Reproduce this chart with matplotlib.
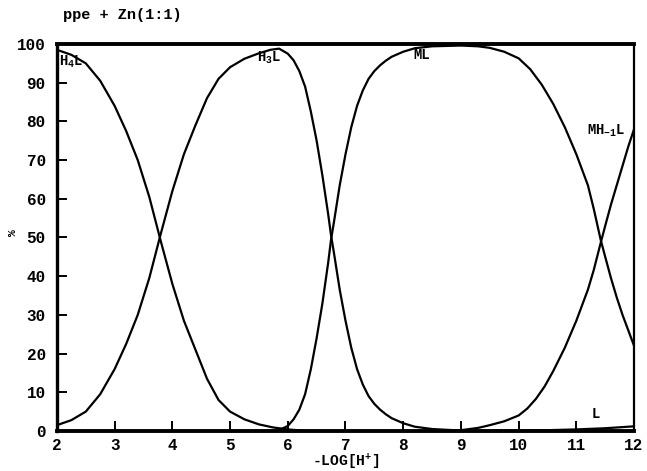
import matplotlib
matplotlib.use("Agg")
import matplotlib.pyplot as plt

plt.rcParams["font.family"] = ["Liberation Mono", "DejaVu Sans Mono"]
plt.rcParams["font.weight"] = "bold"
plt.rcParams["mathtext.fontset"] = "custom"
plt.rcParams["mathtext.rm"] = "Liberation Mono:bold"
plt.rcParams["mathtext.it"] = "Liberation Mono:bold"
plt.rcParams["mathtext.bf"] = "Liberation Mono:bold"

# Species distribution, ppe + Zn (1:1)
h4l_x = [2.0, 2.25, 2.5, 2.75, 3.0, 3.2, 3.4, 3.6, 3.8, 4.0, 4.2, 4.4, 4.6,
         4.8, 5.0, 5.25, 5.5, 5.75, 6.0, 6.25]
h4l_y = [98.5, 97.2, 95, 90.5, 84, 77.5, 70, 60.5, 49, 38, 28.5, 21, 13.5,
         8, 5, 3, 1.7, 0.9, 0.4, 0.1]

h3l_x = [2.0, 2.25, 2.5, 2.75, 3.0, 3.2, 3.4, 3.6, 3.8, 4.0, 4.2, 4.4, 4.6,
         4.8, 5.0, 5.25, 5.5, 5.7, 5.85, 6.0, 6.1, 6.2, 6.3, 6.4, 6.5, 6.6,
         6.7, 6.75, 6.8, 6.9, 7.0, 7.1, 7.2, 7.3, 7.4, 7.5, 7.6, 7.7, 7.8,
         8.0, 8.2, 8.5, 9.0]
h3l_y = [1.5, 2.8, 5, 9.5, 16, 22.5, 30, 39.5, 51, 62, 71.5, 79, 86,
         91, 94, 96.2, 97.6, 98.5, 98.8, 97.5, 95.8, 93, 89, 82.5, 75, 66,
         56, 50.5, 46, 36.5, 28.5, 21.5, 16, 12, 9, 7, 5.5, 4.3, 3.3,
         2, 1.1, 0.5, 0.1]

ml_x = [5.85, 6.0, 6.1, 6.2, 6.3, 6.4, 6.5, 6.6, 6.7, 6.75, 6.8, 6.9, 7.0,
        7.1, 7.2, 7.3, 7.4, 7.5, 7.6, 7.7, 7.8, 8.0, 8.2, 8.5, 9.0, 9.3, 9.5,
        9.75, 10.0, 10.2, 10.4, 10.6, 10.8, 11.0, 11.2, 11.3, 11.42, 11.5,
        11.6, 11.7, 11.8, 11.9, 12.0]
ml_y = [0.2, 1.3, 3, 5.5, 9.5, 16, 24, 33, 43.5, 49.5, 54, 63.5, 71.5,
        78.5, 84, 88, 91, 93, 94.5, 95.7, 96.7, 98, 98.9, 99.4, 99.6, 99.4, 99,
        98, 96.3, 93.5, 89.5, 84.5, 78.5, 71.5, 63.5, 57.5, 49.5, 45,
        39.5, 34.5, 30, 26, 22]

mh1l_x = [8.8, 9.0, 9.3, 9.5, 9.75, 10.0, 10.15, 10.3, 10.45, 10.6, 10.8, 11.0,
          11.1, 11.2, 11.3, 11.42, 11.5, 11.6, 11.7, 11.8, 11.9, 12.0]
mh1l_y = [0.0, 0.2, 0.8, 1.5, 2.5, 4, 5.8, 8.3, 11.5, 15.5, 21.5, 28.5,
          32.5, 36.5, 41.5, 48.5, 53, 58.5, 63.5, 68.5, 73.5, 78]

l_x = [9.5, 10.0, 10.5, 11.0, 11.5, 12.0]
l_y = [0.0, 0.1, 0.2, 0.4, 0.7, 1.2]

species = [
    (h4l_x, h4l_y, "H$_4$L", 2.03, 95.5),
    (h3l_x, h3l_y, "H$_3$L", 5.47, 96.4),
    (ml_x, ml_y, "ML", 8.17, 97.2),
    (mh1l_x, mh1l_y, "MH$_{-1}$L", 11.19, 77.5),
    (l_x, l_y, "L", 11.27, 4.4),
]

fig = plt.figure(figsize=(6.47, 4.71), dpi=100)
ax = fig.add_axes([0.088, 0.085, 0.892, 0.8216])

for xs, ys, name, tx, ty in species:
    ax.plot(xs, ys, color="black", lw=1.6, solid_capstyle="round",
            solid_joinstyle="round")
    ax.text(tx, ty, name, fontsize=10, fontweight="bold", va="center", ha="left")

ax.set_xlim(2, 12)
ax.set_ylim(0, 100)
ax.set_xticks(range(2, 13))
ax.set_yticks(range(0, 101, 10))
ax.tick_params(direction="in", length=7.5, width=1.4, labelsize=11.5,
               top=False, right=False)
ax.tick_params(axis="y", pad=8)
ax.tick_params(axis="x", pad=5)
for lab in ax.get_xticklabels() + ax.get_yticklabels():
    lab.set_fontweight("bold")

ax.spines["left"].set_linewidth(2.4)
ax.spines["bottom"].set_linewidth(2.8)
ax.spines["top"].set_linewidth(2.8)
ax.spines["right"].set_linewidth(1.6)

ax.set_xlabel("-LOG[H$^{+}$]", fontsize=10.5, fontweight="bold", labelpad=-1)
fig.text(0.02, 1 - 233 / 471, "%", fontsize=8, fontweight="bold", rotation=90,
         ha="center", va="center")
fig.text(0.097, 0.968, "ppe + Zn(1:1)", fontsize=11, fontweight="bold",
         ha="left", va="center")

fig.savefig("out.png", dpi=100)
plt.close(fig)
